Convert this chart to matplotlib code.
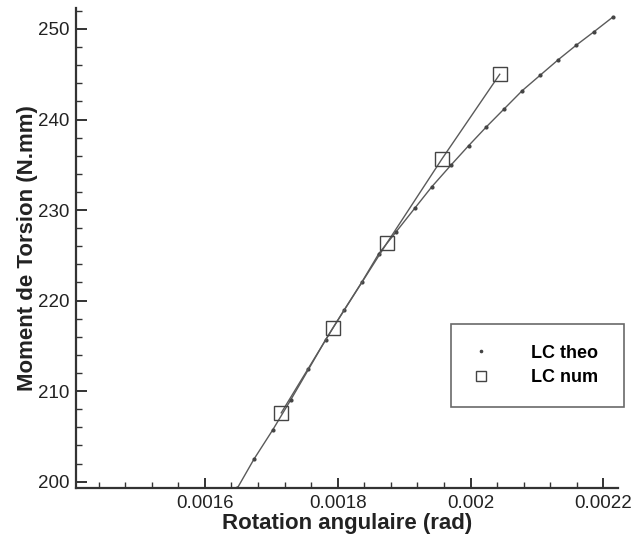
import numpy as np
import matplotlib.pyplot as plt
from matplotlib.ticker import MultipleLocator, FuncFormatter

plt.rcParams['font.family'] = ['Liberation Sans', 'DejaVu Sans']

# courbe theorique
rot_theo = [0.001649, 0.001674, 0.001702, 0.001729, 0.001756, 0.001782,
            0.001810, 0.001836, 0.001862, 0.001888, 0.001916, 0.001942,
            0.001971, 0.001997, 0.002024, 0.002051, 0.002078, 0.002105,
            0.002132, 0.002159, 0.002186, 0.002214]
mom_theo = [199.3, 202.5, 205.7, 209.0, 212.4, 215.7,
            219.0, 222.0, 225.2, 227.6, 230.2, 232.6,
            235.0, 237.1, 239.2, 241.2, 243.2, 244.9,
            246.6, 248.2, 249.7, 251.3]

# resultats numeriques
rot_num = [0.001715, 0.001793, 0.001874, 0.001957, 0.002044]
mom_num = [207.6, 217.0, 226.35, 235.65, 245.0]

gris = '#5a5a5a'

fig = plt.figure(figsize=(6.36, 5.40), dpi=100)
ax = fig.add_axes([0.1195, 0.0963, 0.8522, 0.8889])

ax.plot(rot_theo, mom_theo, color=gris, lw=1.0, marker='o', ms=2.0,
        mfc='#444444', mec='#444444', label='LC theo')
ax.plot(rot_num, mom_num, color=gris, lw=1.0, marker='s', ms=9.5,
        mfc='none', mec='#444444', mew=1.0, label='LC num')

ax.set_xlim(0.0014059, 0.0022221)
ax.set_ylim(199.3, 252.32)

ax.spines['top'].set_visible(False)
ax.spines['right'].set_visible(False)
for s in ['left', 'bottom']:
    ax.spines[s].set_linewidth(1.6)
    ax.spines[s].set_color('#333333')

ax.xaxis.set_major_locator(MultipleLocator(0.0002))
ax.xaxis.set_minor_locator(MultipleLocator(0.00004))
ax.yaxis.set_major_locator(MultipleLocator(10))
ax.yaxis.set_minor_locator(MultipleLocator(2))
ax.xaxis.set_major_formatter(FuncFormatter(lambda v, p: '%g' % round(v, 6)))

ax.tick_params(axis='both', which='both', direction='in', colors='#333333',
               labelcolor='#222222', labelsize=13.5)
ax.tick_params(axis='x', which='major', length=7, width=1.4, pad=5)
ax.tick_params(axis='x', which='minor', length=4, width=1.0)
ax.tick_params(axis='y', which='major', length=8, width=1.4, pad=5)
ax.tick_params(axis='y', which='minor', length=4.5, width=1.0)

ax.set_xlabel('Rotation angulaire (rad)', fontsize=16, fontweight='bold',
              color='#222222', labelpad=1)
ax.set_ylabel('Moment de Torsion (N.mm)', fontsize=16, fontweight='bold',
              color='#222222', labelpad=0)

leg = ax.legend(loc='lower left', bbox_to_anchor=(0.692, 0.169, 0.319, 0.17),
                mode='expand', prop={'weight': 'bold', 'size': 13},
                frameon=True, fancybox=False, borderpad=1.15,
                handlelength=1.0, handletextpad=2.25, labelspacing=0.42,
                borderaxespad=0, markerscale=0.8)
leg.get_frame().set_edgecolor('#444444')
leg.get_frame().set_linewidth(1.2)
for h in leg.legend_handles:
    h.set_linestyle('none')

fig.savefig('out.png', dpi=100)
